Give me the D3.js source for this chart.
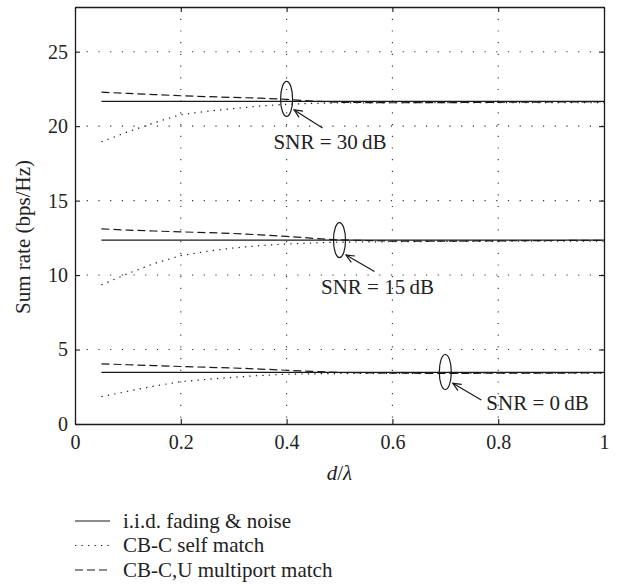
<!DOCTYPE html>
<html>
<head>
<meta charset="utf-8">
<script src="https://cdn.jsdelivr.net/npm/d3@7"></script>
<style>
  body { margin: 0; background: #fff; }
  svg { display: block; font-family: "Liberation Serif", "DejaVu Serif", serif; }
</style>
</head>
<body>
<div id="root"></div>
<script>
// spacing d/lambda
const dValues = [0.05, 0.1, 0.15, 0.2, 0.25, 0.3, 0.35, 0.4, 0.45, 0.5, 0.6, 0.7, 0.8, 0.9, 1.0];

// SNR = 30 dB
const iid30 = [21.66, 21.66, 21.66, 21.66, 21.66, 21.66, 21.66, 21.66, 21.66, 21.66, 21.66, 21.66, 21.66, 21.66, 21.66];
const self30 = [18.95, 19.62, 20.23, 20.77, 21.0, 21.18, 21.35, 21.47, 21.53, 21.56, 21.57, 21.58, 21.58, 21.58, 21.58];
const multi30 = [22.28, 22.2, 22.12, 22.04, 21.98, 21.93, 21.88, 21.8, 21.68, 21.6, 21.57, 21.58, 21.6, 21.62, 21.64];

// SNR = 15 dB
const iid15 = [12.35, 12.35, 12.35, 12.35, 12.35, 12.35, 12.35, 12.35, 12.35, 12.35, 12.35, 12.35, 12.35, 12.35, 12.35];
const self15 = [9.34, 10.1, 10.78, 11.31, 11.6, 11.82, 11.98, 12.09, 12.16, 12.21, 12.24, 12.26, 12.27, 12.27, 12.27];
const multi15 = [13.1, 13.02, 12.96, 12.9, 12.85, 12.79, 12.7, 12.6, 12.47, 12.36, 12.28, 12.28, 12.3, 12.32, 12.33];

// SNR = 0 dB
const iid0 = [3.47, 3.47, 3.47, 3.47, 3.47, 3.47, 3.47, 3.47, 3.47, 3.47, 3.47, 3.47, 3.47, 3.47, 3.47];
const self0 = [1.84, 2.2, 2.55, 2.84, 3.0, 3.14, 3.26, 3.34, 3.37, 3.39, 3.4, 3.41, 3.41, 3.41, 3.41];
const multi0 = [4.04, 3.98, 3.92, 3.86, 3.81, 3.76, 3.69, 3.61, 3.53, 3.46, 3.41, 3.4, 3.41, 3.42, 3.43];

const xTicks = [0, 0.2, 0.4, 0.6, 0.8, 1];
const yTicks = [0, 5, 10, 15, 20, 25];

const legendLabels = ["i.i.d. fading & noise", "CB-C self match", "CB-C,U multiport match"];

// annotations: ellipse centre in data units, label
const snrLabels = ["SNR = 30\u2009dB", "SNR = 15\u2009dB", "SNR = 0\u2009dB"];
const snrX = [0.4, 0.5, 0.7];
const snrY = [21.83, 12.35, 3.49];

const width = 619,
  height = 585,
  margins = { top: 7, right: 15, bottom: 161, left: 75 };

const styles = [
  { dash: null },
  { dash: "1.3,5.2" },
  { dash: "8,4" },
];

// offsets (px) from ellipse centre: arrow head, arrow tail, text left / baseline
const annotLayout = [
  { head: [7.5, 11], tail: [36, 29], text: [-13, 50] },
  { head: [6.5, 15], tail: [35, 31.5], text: [-18.5, 54] },
  { head: [7.5, 11.3], tail: [36, 28], text: [41, 38] },
];

const ink = "#1a1a1a";
const labelSize = "21px";

const svg = d3
  .select("#root")
  .append("svg")
  .attr("width", width)
  .attr("height", height)
  .attr("viewBox", [0, 0, width, height]);

svg.append("rect").attr("width", width).attr("height", height).attr("fill", "#fff");

const innerW = width - margins.left - margins.right,
  innerH = height - margins.top - margins.bottom;

const x = d3.scaleLinear().domain([0, 1]).range([0, innerW]);
const y = d3.scaleLinear().domain([0, 28]).range([innerH, 0]);

const g = svg.append("g").attr("transform", `translate(${margins.left}, ${margins.top})`);

// dotted grid
g.append("g")
  .selectAll("line")
  .data(xTicks.filter((t) => t > 0 && t < 1))
  .join("line")
  .attr("x1", (d) => x(d))
  .attr("x2", (d) => x(d))
  .attr("y1", 0)
  .attr("y2", innerH)
  .attr("stroke", "#333")
  .attr("stroke-width", 1.1)
  .attr("stroke-dasharray", "1.2,10.5");

g.append("g")
  .selectAll("line")
  .data(yTicks.filter((t) => t > 0))
  .join("line")
  .attr("x1", 0)
  .attr("x2", innerW)
  .attr("y1", (d) => y(d))
  .attr("y2", (d) => y(d))
  .attr("stroke", "#333")
  .attr("stroke-width", 1.1)
  .attr("stroke-dasharray", "1.2,10.5");

// axes, ticks pointing inward on all four sides
const xAxis = d3
  .axisBottom(x)
  .tickValues(xTicks)
  .tickFormat((t) => String(t))
  .tickSize(-5)
  .tickSizeOuter(0)
  .tickPadding(11);
const yAxis = d3.axisLeft(y).tickValues(yTicks).tickSize(-5).tickSizeOuter(0).tickPadding(7);

g.append("g").attr("transform", `translate(0, ${innerH})`).call(xAxis);
g.append("g").call(yAxis);
g.append("g")
  .call(d3.axisTop(x).tickValues(xTicks).tickSize(-5).tickSizeOuter(0).tickFormat(""));
g.append("g")
  .attr("transform", `translate(${innerW}, 0)`)
  .call(d3.axisRight(y).tickValues(yTicks).tickSize(-5).tickSizeOuter(0).tickFormat(""));

g.selectAll(".domain").attr("stroke", ink).attr("stroke-width", 1.3);
g.selectAll(".tick line").attr("stroke", ink).attr("stroke-width", 1.1);
g.selectAll(".tick text")
  .attr("fill", "#222")
  .style("font-size", "20px")
  .style("font-family", "'Liberation Serif', serif");

// curves
const line = d3
  .line()
  .x((d) => x(d[0]))
  .y((d) => y(d[1]));

const groups = [
  [iid30, self30, multi30],
  [iid15, self15, multi15],
  [iid0, self0, multi0],
];

groups.forEach((series) => {
  series.forEach((vals, i) => {
    g.append("path")
      .datum(dValues.map((d, k) => [d, vals[k]]))
      .attr("fill", "none")
      .attr("stroke", ink)
      .attr("stroke-width", i === 0 ? 1.3 : 1.2)
      .attr("stroke-dasharray", styles[i].dash)
      .attr("d", line);
  });
});

// SNR annotations
snrLabels.forEach((label, i) => {
  const cx = x(snrX[i]),
    cy = y(snrY[i]),
    lay = annotLayout[i];

  g.append("ellipse")
    .attr("cx", cx)
    .attr("cy", cy)
    .attr("rx", 6)
    .attr("ry", 17.5)
    .attr("fill", "none")
    .attr("stroke", ink)
    .attr("stroke-width", 1.2);

  const hx = cx + lay.head[0],
    hy = cy + lay.head[1],
    tx = cx + lay.tail[0],
    ty = cy + lay.tail[1];
  const ang = Math.atan2(ty - hy, tx - hx);
  const len = 9,
    spread = 0.42;

  const arrow = g.append("g").attr("stroke", ink).attr("stroke-width", 1.2).attr("fill", "none");
  arrow.append("line").attr("x1", tx).attr("y1", ty).attr("x2", hx).attr("y2", hy);
  arrow
    .append("polyline")
    .attr(
      "points",
      [
        [hx + len * Math.cos(ang + spread), hy + len * Math.sin(ang + spread)],
        [hx, hy],
        [hx + len * Math.cos(ang - spread), hy + len * Math.sin(ang - spread)],
      ].join(" ")
    );

  g.append("text")
    .attr("x", cx + lay.text[0])
    .attr("y", cy + lay.text[1])
    .attr("fill", "#222")
    .style("font-size", labelSize)
    .text(label);
});

// axis labels
svg
  .append("text")
  .attr("transform", "translate(30, 237) rotate(-90)")
  .attr("text-anchor", "middle")
  .attr("fill", "#222")
  .style("font-size", labelSize)
  .text("Sum rate (bps/Hz)");

const xLabel = svg
  .append("text")
  .attr("x", margins.left + innerW / 2)
  .attr("y", 480)
  .attr("text-anchor", "middle")
  .attr("fill", "#222")
  .style("font-size", labelSize)
  .style("font-style", "italic");
xLabel.append("tspan").text("d");
xLabel.append("tspan").style("font-style", "normal").text("/");
xLabel.append("tspan").text("\u03bb");

// legend
const legend = svg.append("g").attr("transform", "translate(75, 521)");
legendLabels.forEach((label, i) => {
  const row = legend.append("g").attr("transform", `translate(0, ${i * 24.5})`);
  row
    .append("line")
    .attr("x1", 0)
    .attr("x2", 35)
    .attr("y1", 0)
    .attr("y2", 0)
    .attr("stroke", ink)
    .attr("stroke-width", 1.2)
    .attr("stroke-dasharray", styles[i].dash);
  row
    .append("text")
    .attr("x", 48)
    .attr("y", 6.5)
    .attr("fill", "#222")
    .style("font-size", labelSize)
    .text(label);
});
</script>
</body>
</html>
